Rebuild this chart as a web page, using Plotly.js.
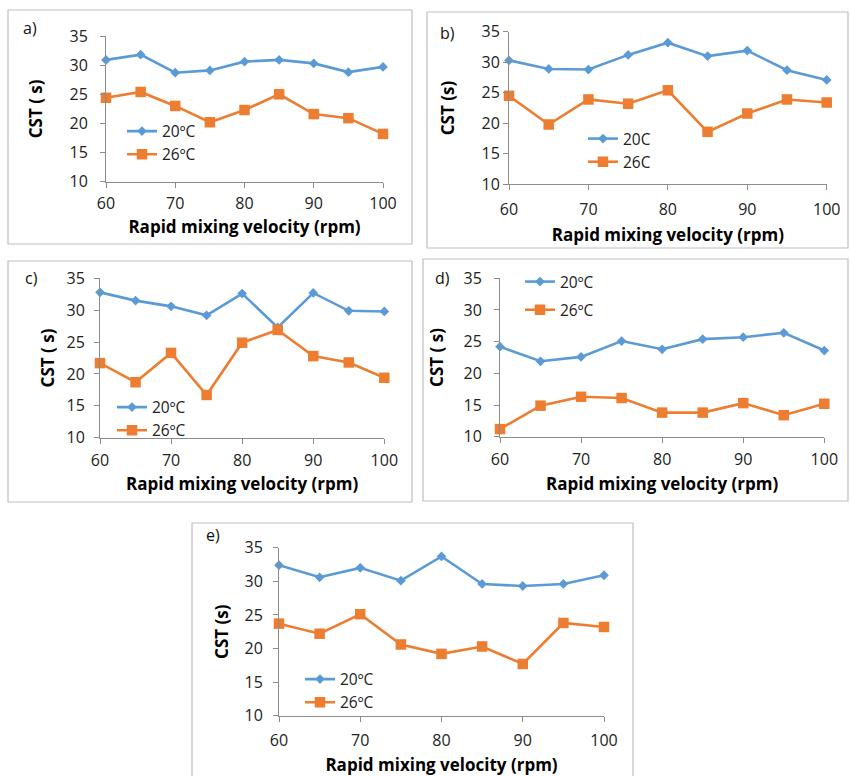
<!DOCTYPE html>
<html>
<head>
<meta charset="utf-8">
<script src="https://cdn.plot.ly/plotly-3.0.1.min.js"></script>
<style>html,body{margin:0;padding:0;background:#fff;}#chart{width:850px;height:776px;}</style>
</head>
<body>
<div id="chart"></div>
<script>
// Rapid mixing velocity (rpm)
const velocity = [60, 65, 70, 75, 80, 85, 90, 95, 100];

// Panel a)
const a_20 = [30.9, 31.8, 28.7, 29.1, 30.6, 30.9, 30.3, 28.8, 29.7];
const a_26 = [24.4, 25.4, 23.0, 20.2, 22.3, 25.0, 21.6, 20.9, 18.2];
// Panel b)
const b_20 = [30.3, 28.9, 28.8, 31.2, 33.2, 31.0, 31.9, 28.7, 27.1];
const b_26 = [24.5, 19.8, 23.9, 23.2, 25.4, 18.6, 21.6, 23.9, 23.4];
// Panel c)
const c_20 = [32.8, 31.5, 30.6, 29.2, 32.6, 27.3, 32.7, 29.9, 29.8];
const c_26 = [21.7, 18.7, 23.3, 16.7, 24.9, 26.9, 22.8, 21.8, 19.4];
// Panel d)
const d_20 = [24.2, 21.9, 22.6, 25.1, 23.8, 25.4, 25.7, 26.4, 23.6];
const d_26 = [11.2, 14.9, 16.3, 16.1, 13.8, 13.8, 15.3, 13.4, 15.2];
// Panel e)
const e_20 = [32.4, 30.6, 32.0, 30.1, 33.7, 29.6, 29.3, 29.6, 30.9];
const e_26 = [23.7, 22.2, 25.1, 20.6, 19.2, 20.3, 17.7, 23.8, 23.2];

const panelLabels = ["a)", "b)", "c)", "d)", "e)"];
const seriesNames = [["20ºC", "26ºC"], ["20C", "26C"], ["20ºC", "26ºC"], ["20ºC", "26ºC"], ["20ºC", "26ºC"]];
const yTitles = ["CST ( s)", "CST (s)", "CST ( s)", "CST ( s)", "CST (s)"];
const xTitle = "Rapid mixing velocity (rpm)";
const yTicks = [10, 15, 20, 25, 30, 35];
const xTicks = [60, 70, 80, 90, 100];

const W = 850, H = 776;
const BLUE = "#5B9BD5", ORANGE = "#ED7D31";
const FONT = "'Open Sans', 'Noto Sans', sans-serif";

// plot areas in pixels [x0, x1, yTop, yBottom]
const areas = [
  [106, 383, 36, 181.7],
  [509, 826.7, 31.7, 184.3],
  [100, 384.3, 278.3, 437.7],
  [500, 824.3, 278.3, 436.7],
  [279, 604, 547.7, 715.7]
];
// frames in pixels [x0, y0, x1, y1]
const frames = [
  [8, 10, 412, 244],
  [427, 12, 848, 248],
  [8, 261, 412, 502],
  [423, 259, 848, 501],
  [192, 523, 633, 790]
];
// per-panel spacing tweaks: [yTickStandoff, yTitleStandoff, xTickStandoff, xTitleStandoff]
const spacing = [
  [9, 22, 2, 8],
  [0, 22, 5, 10],
  [6, 7, 3, 1],
  [9, 15, 3, 2],
  [7, 11, 5, 9]
];
// x-title centre y (px) for panels whose title sits closer to the tick labels than Plotly allows
const xTitleAnnotY = [null, null, 483, 483, null];
// legend top-left positions in px [x, y, gap]
const legendPos = [
  [122, 114.5, 0],
  [583, 122, 0],
  [112, 390.5, 0],
  [520, 265, 5],
  [300, 662.5, 0]
];
const labelPos = [[30, 28], [447, 33], [32, 278], [443, 278], [213, 535]];

const pairs = [[a_20, a_26], [b_20, b_26], [c_20, c_26], [d_20, d_26], [e_20, e_26]];

const traces = [];
const layout = {
  width: W, height: H,
  margin: {l: 0, r: 0, t: 0, b: 0},
  paper_bgcolor: "#fff", plot_bgcolor: "rgba(0,0,0,0)",
  font: {family: FONT, color: "#000", size: 16},
  shapes: [], annotations: [],
  showlegend: true
};
const titleFont = {size: 17, color: "#000", family: FONT, weight: "bold"};

pairs.forEach((p, i) => {
  const n = i + 1;
  const xa = "x" + (n === 1 ? "" : n), ya = "y" + (n === 1 ? "" : n);
  const legName = n === 1 ? "legend" : "legend" + n;
  traces.push({
    x: velocity, y: p[0], xaxis: xa, yaxis: ya, type: "scatter", mode: "lines+markers",
    name: seriesNames[i][0], legend: legName, legendgroup: "g" + n + "a",
    line: {color: BLUE, width: 2.6}, marker: {symbol: "diamond", size: 7.5, color: BLUE},
    cliponaxis: false
  });
  traces.push({
    x: velocity, y: p[1], xaxis: xa, yaxis: ya, type: "scatter", mode: "lines+markers",
    name: seriesNames[i][1], legend: legName, legendgroup: "g" + n + "b",
    line: {color: ORANGE, width: 2.6}, marker: {symbol: "square", size: 10.5, color: ORANGE},
    cliponaxis: false
  });
  const ar = areas[i];
  const sp = spacing[i];
  const xk = "xaxis" + (n === 1 ? "" : n), yk = "yaxis" + (n === 1 ? "" : n);
  layout[xk] = {
    domain: [ar[0] / W, ar[1] / W], anchor: ya, range: [60, 100],
    tickvals: xTicks, ticktext: xTicks.map(String),
    showgrid: false, zeroline: false, showline: true, linecolor: "#8c8c8c", linewidth: 1,
    ticks: "outside", ticklen: 5, tickcolor: "#8c8c8c", ticklabelstandoff: sp[2],
    tickfont: {size: 16, color: "#222"}
  };
  if (xTitleAnnotY[i] === null) {
    layout[xk].title = {text: xTitle, font: titleFont, standoff: sp[3]};
  } else {
    layout.annotations.push({
      text: "<b>" + xTitle + "</b>", xref: xk.replace("axis", "") + " domain", yref: "paper",
      x: 0.5, y: 1 - xTitleAnnotY[i] / H, xanchor: "center", yanchor: "middle",
      showarrow: false, font: titleFont
    });
  }
  layout[yk] = {
    domain: [1 - ar[3] / H, 1 - ar[2] / H], anchor: xa, range: [10, 35],
    tickvals: yTicks, ticktext: yTicks.map(String),
    showgrid: false, zeroline: false, showline: true, linecolor: "#8c8c8c", linewidth: 1,
    ticks: "outside", ticklen: 5, tickcolor: "#8c8c8c", ticklabelstandoff: sp[0],
    tickfont: {size: 16, color: "#222"},
    title: {text: yTitles[i], font: titleFont, standoff: sp[1]}
  };
  const lp = legendPos[i];
  layout[legName] = {
    x: lp[0] / W, y: 1 - lp[1] / H, xanchor: "left", yanchor: "top",
    bgcolor: "rgba(0,0,0,0)", borderwidth: 0,
    font: {size: 15.5, color: "#222", family: FONT},
    tracegroupgap: lp[2], orientation: "v"
  };
  const f = frames[i];
  layout.shapes.push({
    type: "rect", xref: "paper", yref: "paper",
    x0: f[0] / W, x1: f[2] / W, y0: 1 - f[1] / H, y1: 1 - f[3] / H,
    line: {color: "#bfbfbf", width: 1.2}, fillcolor: "rgba(0,0,0,0)", layer: "below"
  });
  const lb = labelPos[i];
  layout.annotations.push({
    text: panelLabels[i], xref: "paper", yref: "paper",
    x: lb[0] / W, y: 1 - lb[1] / H, xanchor: "center", yanchor: "middle",
    showarrow: false, font: {size: 16, color: "#111", family: FONT}
  });
});

Plotly.newPlot("chart", traces, layout, {displayModeBar: false, staticPlot: true});
</script>
</body>
</html>
